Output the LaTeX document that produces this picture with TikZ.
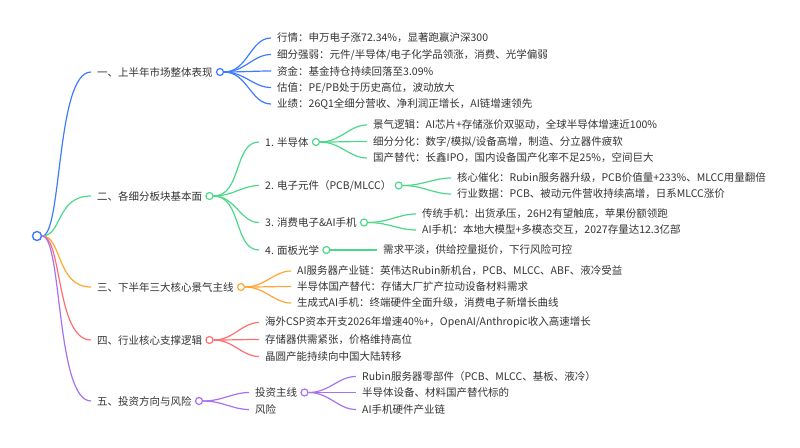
\documentclass[tikz,border=0pt]{standalone}
\usepackage{fontspec}
\setmainfont{Noto Sans CJK SC}
\usetikzlibrary{positioning}

\definecolor{mblue}{HTML}{3D7BFF}
\definecolor{mgreen}{HTML}{4CD88A}
\definecolor{morange}{HTML}{FFA634}
\definecolor{mred}{HTML}{FF6F6F}
\definecolor{mpurple}{HTML}{A971F0}
\definecolor{ink}{HTML}{333333}

\tikzstyle{topic} = [anchor=west, inner xsep=3pt, inner ysep=1pt, text=ink, font=\fontsize{10.5}{12}\selectfont]
\tikzstyle{knob} = [circle, draw, fill=white, inner sep=0pt, minimum size=7pt, line width=1.2pt]
\tikzstyle{link} = [line width=1.2pt, shorten >=3pt]

\begin{document}
\begin{tikzpicture}[x=1pt, y=-1pt]
\useasboundingbox (0,0) rectangle (800,447);

\node[knob, draw=mblue, minimum size=9pt, line width=1.4pt] (root) at (37,236) {};

\node[topic] (b1) at (94,72) {一、上半年市场整体表现};
\node[knob, draw=mblue, right=0pt of b1] (k1) {};
\node[topic] (b1a) at (274,38) {行情：申万电子涨72.34\%，显著跑赢沪深300};
\node[topic] (b1b) at (274,54.5) {细分强弱：元件/半导体/电子化学品领涨，消费、光学偏弱};
\node[topic] (b1c) at (274,71) {资金：基金持仓持续回落至3.09\%};
\node[topic] (b1d) at (274,87.5) {估值：PE/PB处于历史高位，波动放大};
\node[topic] (b1e) at (274,104) {业绩：26Q1全细分营收、净利润正增长，AI链增速领先};

\node[topic] (b2) at (94,196) {二、各细分板块基本面};
\node[knob, draw=mgreen, right=0pt of b2] (k2) {};
\node[topic] (b2a) at (262,142) {1. 半导体};
\node[knob, draw=mgreen, right=0pt of b2a] (k2a) {};
\node[topic] (b2a1) at (370,125) {景气逻辑：AI芯片+存储涨价双驱动，全球半导体增速近100\%};
\node[topic] (b2a2) at (370,141.5) {细分分化：数字/模拟/设备高增，制造、分立器件疲软};
\node[topic] (b2a3) at (370,158) {国产替代：长鑫IPO，国内设备国产化率不足25\%，空间巨大};
\node[topic] (b2b) at (262,185.5) {2. 电子元件（PCB/MLCC）};
\node[knob, draw=mgreen, right=0pt of b2b] (k2b) {};
\node[topic] (b2b1) at (454,178) {核心催化：Rubin服务器升级，PCB价值量+233\%、MLCC用量翻倍};
\node[topic] (b2b2) at (454,194) {行业数据：PCB、被动元件营收持续高增，日系MLCC涨价};
\node[topic] (b2c) at (262,222.5) {3. 消费电子\&AI手机};
\node[knob, draw=mgreen, right=0pt of b2c] (k2c) {};
\node[topic] (b2c1) at (419,214) {传统手机：出货承压，26H2有望触底，苹果份额领跑};
\node[topic] (b2c2) at (419,230) {AI手机：本地大模型+多模态交互，2027存量达12.3亿部};
\node[topic] (b2d) at (262,250) {4. 面板光学};
\node[knob, draw=mgreen, right=0pt of b2d] (k2d) {};
\node[topic] (b2d1) at (380,250) {需求平淡，供给控量挺价，下行风险可控};

\node[topic] (b3) at (94,287) {三、下半年三大核心景气主线};
\node[knob, draw=morange, right=0pt of b3] (k3) {};
\node[topic] (b3a) at (294,271) {AI服务器产业链：英伟达Rubin新机台，PCB、MLCC、ABF、液冷受益};
\node[topic] (b3b) at (294,286.5) {半导体国产替代：存储大厂扩产拉动设备材料需求};
\node[topic] (b3c) at (294,303) {生成式AI手机：终端硬件全面升级，消费电子新增长曲线};

\node[topic] (b4) at (94,340) {四、行业核心支撑逻辑};
\node[knob, draw=mred, right=0pt of b4] (k4) {};
\node[topic] (b4a) at (262,322.5) {海外CSP资本开支2026年增速40\%+，OpenAI/Anthropic收入高速增长};
\node[topic] (b4b) at (262,339.5) {存储器供需紧张，价格维持高位};
\node[topic] (b4c) at (262,356.5) {晶圆产能持续向中国大陆转移};

\node[topic] (b5) at (94,401) {五、投资方向与风险};
\node[knob, draw=mpurple, right=0pt of b5] (k5) {};
\node[topic] (b5a) at (252,392.5) {投资主线};
\node[knob, draw=mpurple, right=0pt of b5a] (k5a) {};
\node[topic] (b5a1) at (359,376.5) {Rubin服务器零部件（PCB、MLCC、基板、液冷）};
\node[topic] (b5a2) at (359,392.5) {半导体设备、材料国产替代标的};
\node[topic] (b5a3) at (359,409.5) {AI手机硬件产业链};
\node[topic] (b5b) at (252,409.5) {风险};

\draw[link, mblue] (root.east) .. controls +(20,0) and +(-38,0) .. (b1.west);
\draw[link, mgreen] (root.east) .. controls +(20,0) and +(-38,0) .. (b2.west);
\draw[link, morange] (root.east) .. controls +(20,0) and +(-38,0) .. (b3.west);
\draw[link, mred] (root.east) .. controls +(20,0) and +(-38,0) .. (b4.west);
\draw[link, mpurple] (root.east) .. controls +(20,0) and +(-38,0) .. (b5.west);

\draw[link, mblue] (k1.east) to[out=0, in=180] (b1a.west);
\draw[link, mblue] (k1.east) to[out=0, in=180] (b1b.west);
\draw[link, mblue] (k1.east) to[out=0, in=180] (b1c.west);
\draw[link, mblue] (k1.east) to[out=0, in=180] (b1d.west);
\draw[link, mblue] (k1.east) to[out=0, in=180] (b1e.west);

\draw[link, mgreen] (k2.east) to[out=0, in=180] (b2a.west);
\draw[link, mgreen] (k2.east) to[out=0, in=180] (b2b.west);
\draw[link, mgreen] (k2.east) to[out=0, in=180] (b2c.west);
\draw[link, mgreen] (k2.east) to[out=0, in=180] (b2d.west);
\draw[link, mgreen] (k2a.east) to[out=0, in=180] (b2a1.west);
\draw[link, mgreen] (k2a.east) to[out=0, in=180] (b2a2.west);
\draw[link, mgreen] (k2a.east) to[out=0, in=180] (b2a3.west);
\draw[link, mgreen] (k2b.east) to[out=0, in=180] (b2b1.west);
\draw[link, mgreen] (k2b.east) to[out=0, in=180] (b2b2.west);
\draw[link, mgreen] (k2c.east) to[out=0, in=180] (b2c1.west);
\draw[link, mgreen] (k2c.east) to[out=0, in=180] (b2c2.west);
\draw[link, mgreen] (k2d.east) -- (b2d1.west);

\draw[link, morange] (k3.east) to[out=0, in=180] (b3a.west);
\draw[link, morange] (k3.east) to[out=0, in=180] (b3b.west);
\draw[link, morange] (k3.east) to[out=0, in=180] (b3c.west);

\draw[link, mred] (k4.east) to[out=0, in=180] (b4a.west);
\draw[link, mred] (k4.east) to[out=0, in=180] (b4b.west);
\draw[link, mred] (k4.east) to[out=0, in=180] (b4c.west);

\draw[link, mpurple] (k5.east) to[out=0, in=180] (b5a.west);
\draw[link, mpurple] (k5.east) to[out=0, in=180] (b5b.west);
\draw[link, mpurple] (k5a.east) to[out=0, in=180] (b5a1.west);
\draw[link, mpurple] (k5a.east) to[out=0, in=180] (b5a2.west);
\draw[link, mpurple] (k5a.east) to[out=0, in=180] (b5a3.west);
\end{tikzpicture}
\end{document}
